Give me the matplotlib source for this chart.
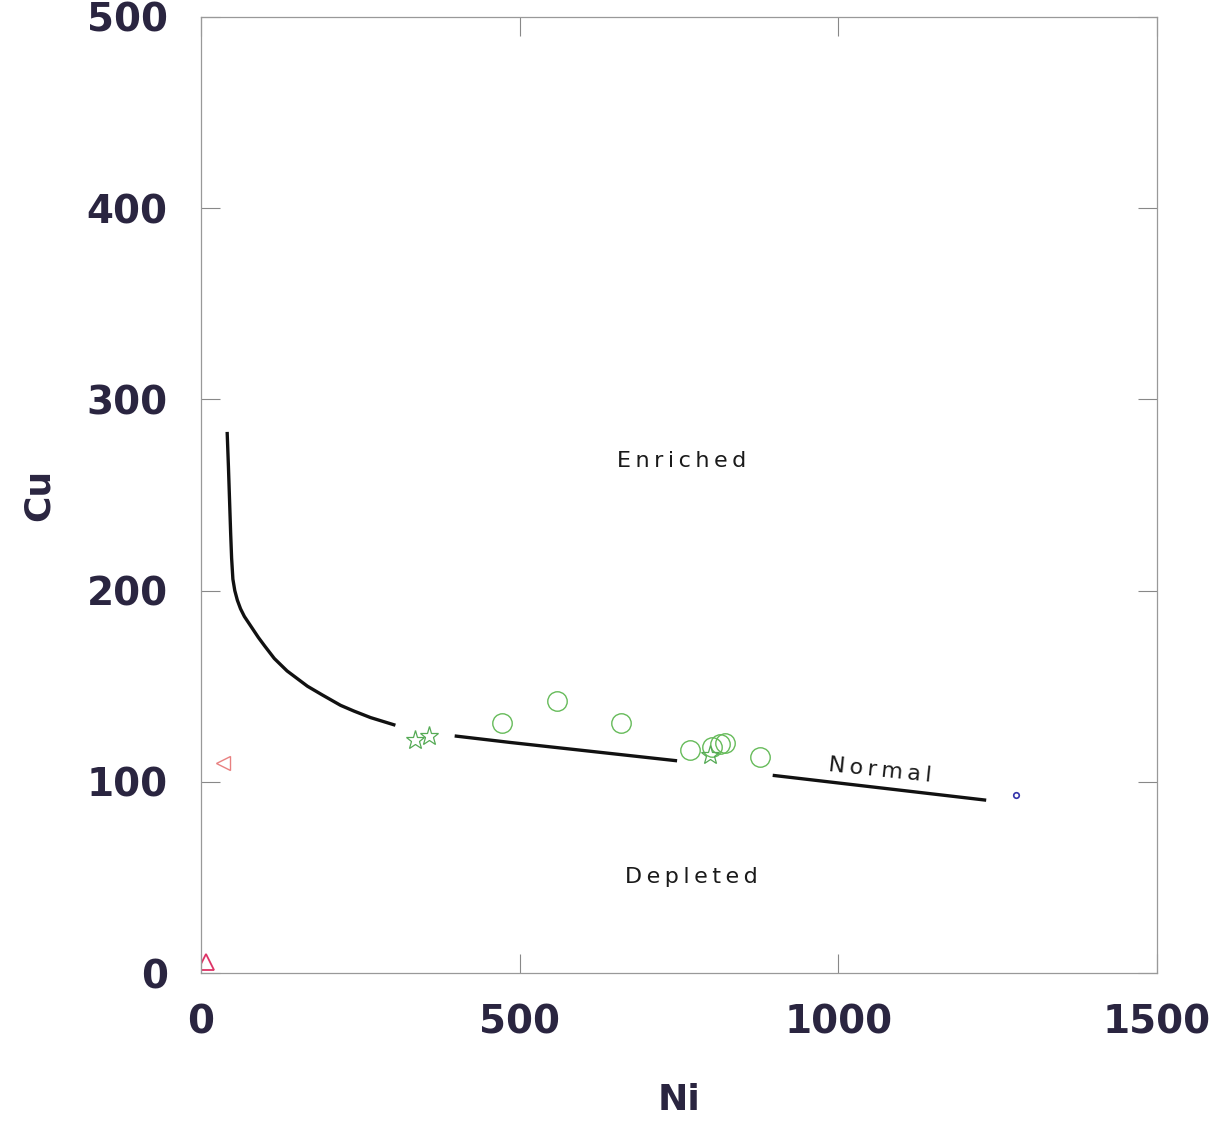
import matplotlib
matplotlib.use("Agg")
import matplotlib.pyplot as plt
import numpy as np

# ---- data ----
curve_ni = [41, 43, 45, 46.5, 48, 50, 53, 57, 62, 68, 78, 90, 100, 115, 135,
            167, 190, 219, 240, 266, 305, None,
            398, 485, 747, None,
            897, 1232]
curve_cu = [283, 265, 245, 230, 217, 206, 200, 195, 190.5, 186.5, 181.5, 175.5,
            171, 164.5, 158, 150, 145.5, 140, 137, 133.6, 129.6, None,
            124, 120.6, 111, None,
            103.4, 90.4]

circle_ni = [472, 558, 659, 768, 801, 815, 822, 877]
circle_cu = [131, 142.5, 131, 116.5, 118, 120, 120.5, 113]

star_ni = [336, 357, 798]
star_cu = [122, 124, 114]

tri_low_ni = [8]
tri_low_cu = [6]
tri_up_ni = [34]
tri_up_cu = [110]

blue_ni = [1278]
blue_cu = [93]

xticks = [0, 500, 1000, 1500]
yticks = [0, 100, 200, 300, 400, 500]

region_labels = ["Enriched", "Normal", "Depleted"]
region_ni = [754, 1065, 770]
region_cu = [268, 106, 50]
region_rot = [0, -6, 0]

# ---- figure ----
fig = plt.figure(figsize=(12.22, 11.24), dpi=100)
ax = fig.add_axes([0.1645, 0.1343, 0.9468 - 0.1645, 0.9849 - 0.1343])

cn = np.array([np.nan if v is None else v for v in curve_ni], dtype=float)
cc = np.array([np.nan if v is None else v for v in curve_cu], dtype=float)
ax.plot(cn, cc, color="#111111", lw=2.4, solid_capstyle="butt",
        solid_joinstyle="round")

ax.plot(circle_ni, circle_cu, "o", ms=14, mfc="none", mec="#66bb5a", mew=1.0)
ax.plot(star_ni, star_cu, "*", ms=14, mfc="none", mec="#55aa55", mew=0.9)
ax.plot(tri_low_ni, tri_low_cu, "^", ms=11, mfc="none", mec="#dd3366", mew=1.3)
ax.plot(tri_up_ni, tri_up_cu, "<", ms=10, mfc="none", mec="#e88080", mew=1.0)
ax.plot(blue_ni, blue_cu, "o", ms=4, mfc="none", mec="#3333aa", mew=1.2)

ts = "\u2009"
for lab, x, y, r in zip(region_labels, region_ni, region_cu, region_rot):
    ax.text(x, y, ts.join(lab), ha="center", va="center", rotation=r,
            fontsize=16, color="#1a1a1a")

ax.set_xlim(0, 1500)
ax.set_ylim(0, 500)
ax.set_xticks(xticks)
ax.set_yticks(yticks)

tick_color = "#2a2540"
for lbl in ax.get_xticklabels() + ax.get_yticklabels():
    lbl.set_fontweight("bold")
    lbl.set_fontsize(28)
    lbl.set_color(tick_color)

ax.tick_params(axis="both", direction="in", length=14, width=0.8,
               color="#888888", top=True, right=True,
               labeltop=False, labelright=False)
ax.tick_params(axis="x", pad=22)
ax.tick_params(axis="y", pad=24)

for s in ax.spines.values():
    s.set_color("#999999")
    s.set_linewidth(0.9)

ax.set_xlabel("Ni", fontsize=26, fontweight="bold", color=tick_color, labelpad=30)
ax.set_ylabel("Cu", fontsize=26, fontweight="bold", color=tick_color, labelpad=22)

fig.savefig("out.png", dpi=100, facecolor="white")
